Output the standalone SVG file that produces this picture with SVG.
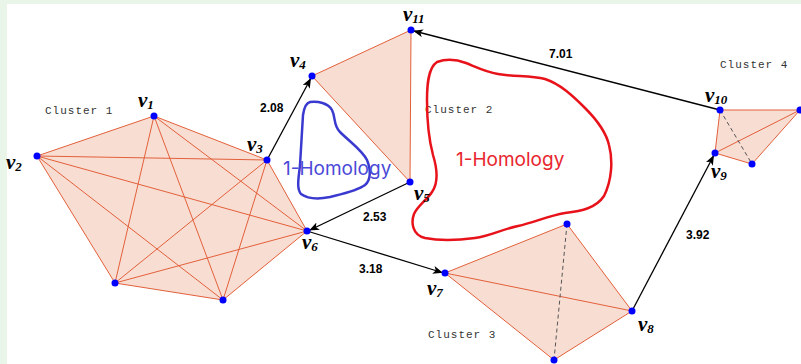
<svg xmlns="http://www.w3.org/2000/svg" width="801" height="364" viewBox="0 0 801 364">
<defs>
<style>
.fill{fill:#f8ddd3;stroke:none}
.e{stroke:#e2603a;stroke-width:1;fill:none}
.d{stroke:#555;stroke-width:1;stroke-dasharray:4,3;fill:none}
.a{stroke:#000;stroke-width:1.3;fill:none;marker-end:url(#ah)}
.n{fill:#0000ff}
.vl{font-family:"Liberation Serif",serif;font-style:italic;font-weight:bold;font-size:21px;fill:#000}
.vs{font-size:13px}
.w{font-family:"Liberation Sans",Arial,sans-serif;font-weight:bold;font-size:12px;fill:#000}
.cl{font-family:"Liberation Mono","Courier New",monospace;font-size:11px;letter-spacing:1px;fill:#333}
</style>
<marker id="ah" markerWidth="10" markerHeight="8" refX="9" refY="4" orient="auto" markerUnits="userSpaceOnUse">
<path d="M0,0 L10,4 L0,8 L2.5,4 Z" fill="#000"/>
</marker>
</defs>
<rect width="801" height="364" fill="#ffffff"/>
<rect x="0" y="0" width="801" height="4" fill="#e8f5e8"/>
<rect x="0" y="0" width="7" height="364" fill="#e8f5e8"/>

<g id="cluster1">
<polygon class="fill" points="154,116 267,160 307,231 223,300 115,283 37,156"/>
<g class="e">
<line x1="154" y1="116" x2="37" y2="156"/><line x1="154" y1="116" x2="267" y2="160"/><line x1="154" y1="116" x2="307" y2="231"/><line x1="154" y1="116" x2="115" y2="283"/><line x1="154" y1="116" x2="223" y2="300"/>
<line x1="37" y1="156" x2="267" y2="160"/><line x1="37" y1="156" x2="307" y2="231"/><line x1="37" y1="156" x2="115" y2="283"/><line x1="37" y1="156" x2="223" y2="300"/>
<line x1="267" y1="160" x2="307" y2="231"/><line x1="267" y1="160" x2="115" y2="283"/><line x1="267" y1="160" x2="223" y2="300"/>
<line x1="307" y1="231" x2="115" y2="283"/><line x1="307" y1="231" x2="223" y2="300"/>
<line x1="115" y1="283" x2="223" y2="300"/>
</g>
<text class="cl" x="45" y="114">Cluster 1</text>
</g>

<g id="cluster2">
<polygon class="fill" points="312,76 411,30 410,182"/>
<polygon class="e" points="312,76 411,30 410,182"/>
<text class="cl" x="425" y="113">Cluster 2</text>
</g>

<g id="cluster3">
<polygon class="fill" points="445,273 567,224 632,311 554,360"/>
<polygon class="e" points="445,273 567,224 632,311 554,360"/>
<line class="e" x1="445" y1="273" x2="632" y2="311"/>
<line class="d" x1="567" y1="224" x2="554" y2="360"/>
<text class="cl" x="428" y="338">Cluster 3</text>
</g>

<g id="cluster4">
<polygon class="fill" points="720,110 800,110 752,164 715,153"/>
<polygon class="e" points="720,110 800,110 752,164 715,153"/>
<line class="e" x1="715" y1="153" x2="800" y2="110"/>
<line class="d" x1="720" y1="110" x2="752" y2="164"/>
<text class="cl" x="720" y="68">Cluster 4</text>
</g>

<g id="homology-blue">
<path d="M310,102 C318,101 328,103 332,110 C336,118 333,125 340,132 C350,142 362,150 367,160 C371,170 371,180 365,185 C357,191 342,194 330,197 C320,199 308,199 301,194 C296,188 299,176 300,165 C301,150 302,130 303,115 C304,108 306,103 310,102 Z" fill="none" stroke="#3a3ad0" stroke-width="2.5"/>
<text x="283" y="175" font-family="Inter,'Noto Sans',sans-serif" font-size="19" fill="#4a4ad8">1-Homology</text>
</g>

<g id="homology-red">
<path d="M437,62 C448,58 458,60 466,63 C476,67 486,72 498,74 C515,77 530,75 545,79 C560,84 572,95 585,108 C598,121 606,132 609,145 C613,160 612,180 604,196 C596,208 582,211 565,213 C548,216 535,222 518,226 C500,230 490,236 475,238 C460,240 440,241 425,238 C412,235 411,222 414,214 C418,205 427,200 432,192 C439,182 437,168 433,155 C429,140 427,120 427,100 C427,85 428,68 437,62 Z" fill="none" stroke="#e8121a" stroke-width="2.5"/>
<text x="456" y="166" font-family="Inter,'Noto Sans',sans-serif" font-size="19" fill="#e8262e">1-Homology</text>
</g>

<g id="connectors">
<line class="a" x1="267" y1="160" x2="310.5" y2="79"/>
<line class="a" x1="410" y1="182" x2="310" y2="230"/>
<line class="a" x1="307" y1="231" x2="442" y2="272.5"/>
<line class="a" x1="632" y1="311" x2="713.5" y2="156"/>
<line class="a" x1="720" y1="110" x2="414" y2="31"/>
<text class="w" x="260" y="112">2.08</text>
<text class="w" x="549" y="58">7.01</text>
<text class="w" x="363" y="221">2.53</text>
<text class="w" x="359" y="273">3.18</text>
<text class="w" x="686" y="239">3.92</text>
</g>

<g id="nodes">
<g id="v1"><circle class="n" cx="154" cy="116" r="3.5"/><text class="vl" x="138" y="107">v<tspan class="vs" dy="2">1</tspan></text></g>
<g id="v2"><circle class="n" cx="37" cy="156" r="3.5"/><text class="vl" x="6" y="169">v<tspan class="vs" dy="2">2</tspan></text></g>
<g id="v3"><circle class="n" cx="267" cy="160" r="3.5"/><text class="vl" x="247" y="151">v<tspan class="vs" dy="2">3</tspan></text></g>
<g id="v4"><circle class="n" cx="312" cy="76" r="3.5"/><text class="vl" x="290" y="67">v<tspan class="vs" dy="2">4</tspan></text></g>
<g id="v5"><circle class="n" cx="410" cy="182" r="3.5"/><text class="vl" x="414" y="200">v<tspan class="vs" dy="2">5</tspan></text></g>
<g id="v6"><circle class="n" cx="307" cy="231" r="3.5"/><text class="vl" x="302" y="249">v<tspan class="vs" dy="2">6</tspan></text></g>
<g id="v7"><circle class="n" cx="445" cy="273" r="3.5"/><text class="vl" x="427" y="295">v<tspan class="vs" dy="2">7</tspan></text></g>
<g id="v8"><circle class="n" cx="632" cy="311" r="3.5"/><text class="vl" x="638" y="331">v<tspan class="vs" dy="2">8</tspan></text></g>
<g id="v9"><circle class="n" cx="715" cy="153" r="3.5"/><text class="vl" x="711" y="178">v<tspan class="vs" dy="2">9</tspan></text></g>
<g id="v10"><circle class="n" cx="720" cy="110" r="3.5"/><text class="vl" x="705" y="102">v<tspan class="vs" dy="2">10</tspan></text></g>
<g id="v11"><circle class="n" cx="411" cy="30" r="3.5"/><text class="vl" x="403" y="21">v<tspan class="vs" dy="2">11</tspan></text></g>
<g id="c1a"><circle class="n" cx="115" cy="283" r="3.5"/></g>
<g id="c1b"><circle class="n" cx="223" cy="300" r="3.5"/></g>
<g id="c3a"><circle class="n" cx="567" cy="224" r="3.5"/></g>
<g id="c3b"><circle class="n" cx="554" cy="360" r="3.5"/></g>
<g id="c4a"><circle class="n" cx="800" cy="110" r="3.5"/></g>
<g id="c4b"><circle class="n" cx="752" cy="164" r="3.5"/></g>
</g>
</svg>
